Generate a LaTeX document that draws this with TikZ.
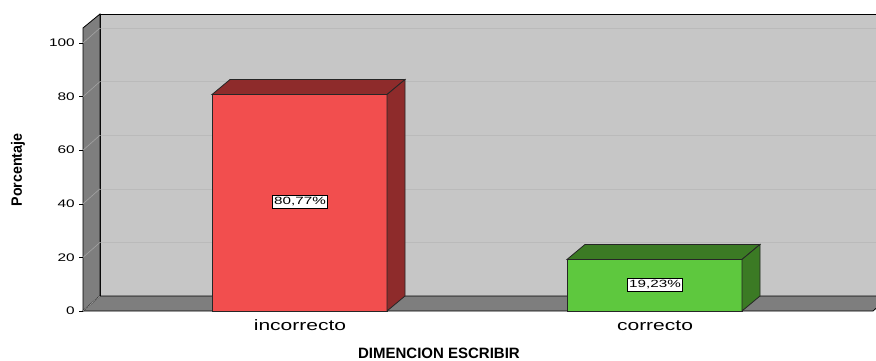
\documentclass[tikz,border=0pt]{standalone}
\usepackage{fontspec}
\usepackage{graphicx}
\setmainfont{Liberation Sans}
\definecolor{backwall}{HTML}{C6C6C6}
\definecolor{sidewall}{HTML}{7E7E7E}
\definecolor{redfront}{HTML}{F24E4E}
\definecolor{redside}{HTML}{8E2B2B}
\definecolor{greenfront}{HTML}{5EC83E}
\definecolor{greenside}{HTML}{3B7A24}
\newcommand{\py}[1]{49+2.68*#1}
\tikzset{
  wall/.style={draw=black, line width=0.8pt},
  gridback/.style={draw=black!27, line width=0.6pt},
  gridside/.style={draw=black!36, line width=0.6pt},
  barface/.style={draw=black!85, line width=0.8pt},
  ticklab/.style={anchor=east, inner sep=0pt, font=\fontsize{11}{13}\selectfont},
  catlab/.style={anchor=base, inner sep=0pt, font=\fontsize{15}{18}\selectfont},
  vallab/.style={fill=white, draw=black, line width=0.5pt, inner xsep=1.6pt, inner ysep=2.2pt, font=\fontsize{10.5}{12}\selectfont}
}
\begin{document}
\begin{tikzpicture}[x=1pt,y=1pt]
    \useasboundingbox (0,0) rectangle (876,360);
    \clip (0,0) rectangle (876,360);
    % walls and floor
    \filldraw[fill=backwall, wall] (100,64) rectangle (900,346);
    \foreach \v in {20,40,...,100}
        \draw[gridback] (100,{\py{\v}+15}) -- (876,{\py{\v}+15});
    \filldraw[fill=sidewall, wall] (83,49) -- (83,332) -- (100,346) -- (100,64) -- cycle;
    \filldraw[fill=sidewall, wall] (83,49) -- (100,64) -- (890,64) -- (873,49) -- cycle;
    \foreach \v in {0,20,...,100} {
        \draw[gridside] (83,{\py{\v}}) -- (100,{\py{\v}+15});
        \draw[black, line width=0.6pt] (79,{\py{\v}}) -- (83,{\py{\v}});
        \node[ticklab] (tick\v) at (75,{\py{\v}}) {\scalebox{1.4}[1]{\v}};
    }
    % bar incorrecto
    \filldraw[fill=redfront, barface] (212,49) rectangle (387,{\py{80.77}});
    \filldraw[fill=redside, barface] (212,{\py{80.77}}) -- (230,{\py{80.77}+15})
        -- (405,{\py{80.77}+15}) -- (387,{\py{80.77}}) -- cycle;
    \filldraw[fill=redside, barface] (387,49) -- (405,64) -- (405,{\py{80.77}+15})
        -- (387,{\py{80.77}}) -- cycle;
    \node[vallab] (val1) at (300,158) {\scalebox{1.45}[1]{80,77\%}};
    % bar correcto
    \filldraw[fill=greenfront, barface] (567,49) rectangle (742,{\py{19.23}});
    \filldraw[fill=greenside, barface] (567,{\py{19.23}}) -- (585,{\py{19.23}+15})
        -- (760,{\py{19.23}+15}) -- (742,{\py{19.23}}) -- cycle;
    \filldraw[fill=greenside, barface] (742,49) -- (760,64) -- (760,{\py{19.23}+15})
        -- (742,{\py{19.23}}) -- cycle;
    \node[vallab] (val2) at (655,75) {\scalebox{1.45}[1]{19,23\%}};
    % axis texts
    \node[catlab] (cat1) at (300,30) {\scalebox{1.4}[1]{incorrecto}};
    \node[catlab] (cat2) at (655,30) {\scalebox{1.4}[1]{correcto}};
    \node[anchor=base, inner sep=0pt, font=\fontsize{15}{18}\selectfont\bfseries] (xtitle) at (439,2) {DIMENCION ESCRIBIR};
    \node[rotate=90, inner sep=0pt, font=\fontsize{15}{18}\selectfont\bfseries] (ytitle) at (18,190) {\scalebox{0.95}[1]{Porcentaje}};
\end{tikzpicture}
\end{document}
